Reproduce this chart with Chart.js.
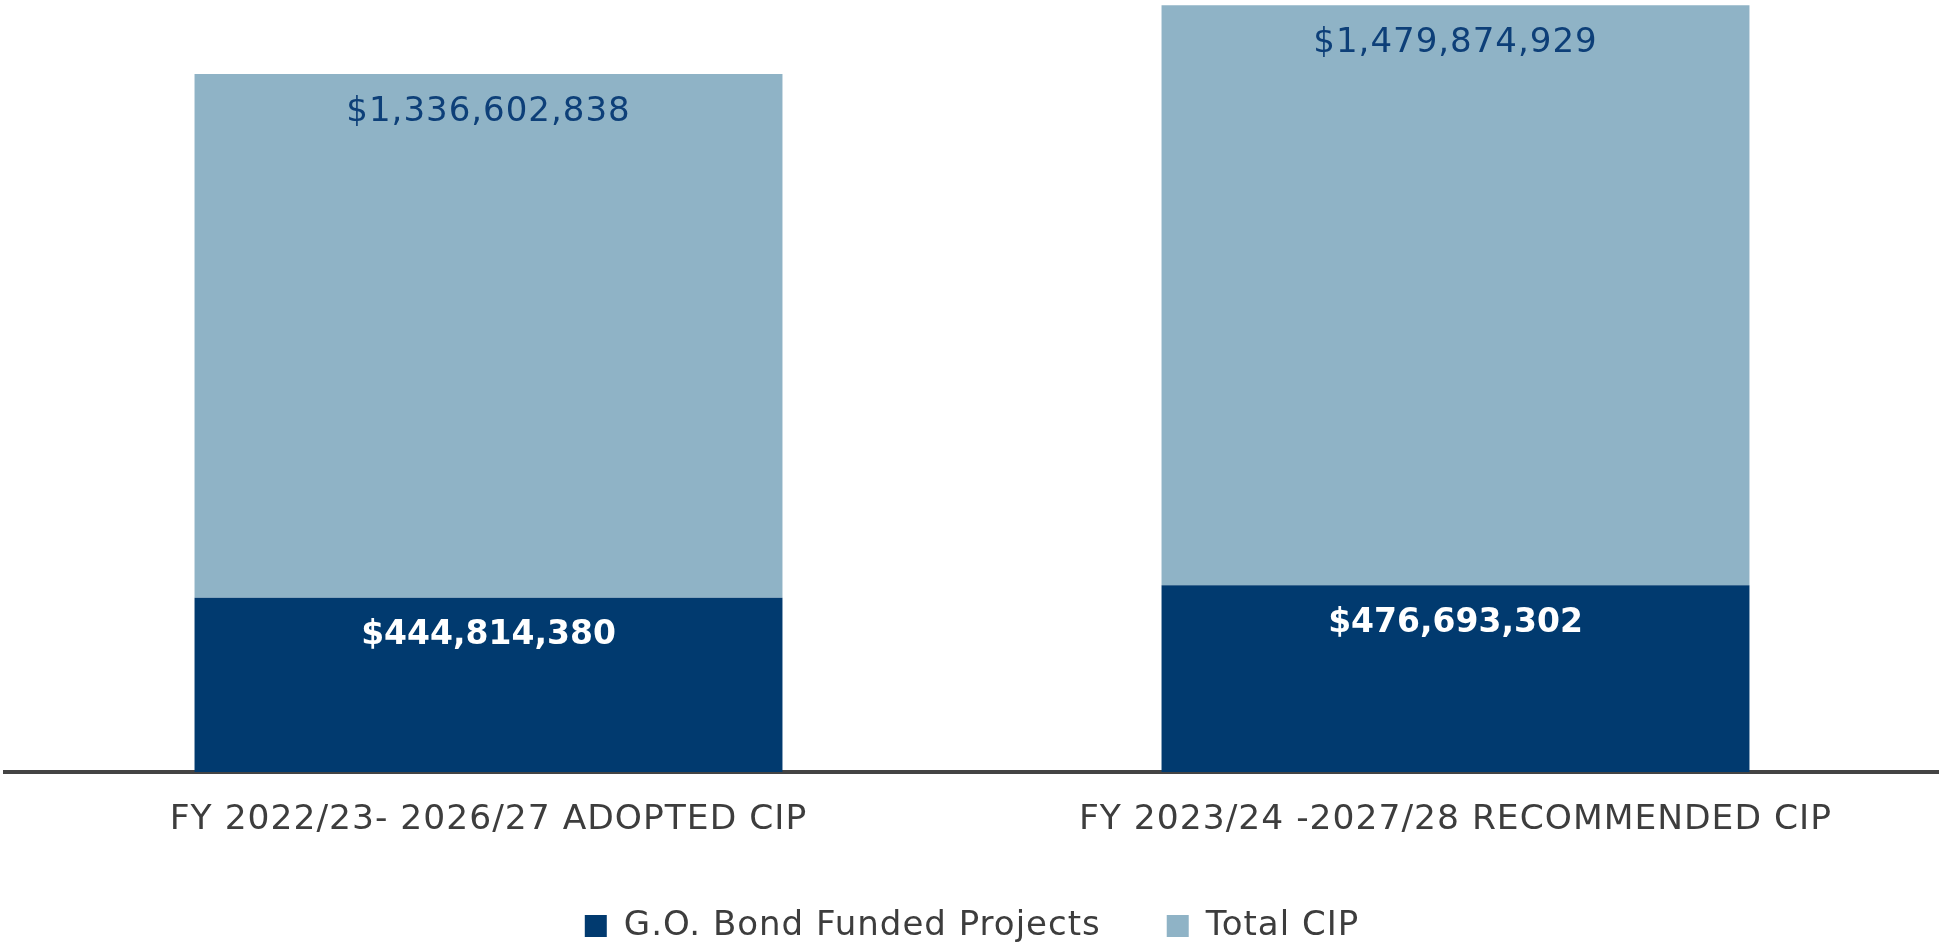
<!DOCTYPE html>
<html>
<head>
<meta charset="utf-8">
<script src="https://cdn.jsdelivr.net/npm/chart.js@4.4.0/dist/chart.umd.min.js"></script>
<style>
  html, body { margin: 0; padding: 0; background: #fff; }
  #wrap { width: 1939px; height: 952px; }
</style>
</head>
<body>
<div id="wrap"><canvas id="myChart"></canvas></div>
<script>
// categories and series
var categories = ['FY 2022/23- 2026/27 ADOPTED CIP', 'FY 2023/24 -2027/28 RECOMMENDED CIP'];
var seriesNames = ['G.O. Bond Funded Projects', 'Total CIP'];
var goBondValues = [444814380, 476693302];
var totalCipValues = [1336602838, 1479874929];
var yMax = 1970000000;

var darkBlue = '#013a6f';
var lightBlue = '#8fb3c6';
var textGrey = '#3d3d3d';

// wider text, like the original font
var spacingPlugin = {
  id: 'spacing',
  beforeLayout: function(chart) { chart.ctx.letterSpacing = '1px'; },
  beforeDraw: function(chart) { chart.ctx.letterSpacing = '1px'; }
};

// dollar labels inside each bar segment
var valueLabels = {
  id: 'valueLabels',
  afterDatasetsDraw: function(chart) {
    var ctx = chart.ctx;
    chart.data.datasets.forEach(function(ds, i) {
      var meta = chart.getDatasetMeta(i);
      meta.data.forEach(function(bar, j) {
        ctx.save();
        if (i === 0) {
          ctx.font = 'bold 33px "DejaVu Sans"';
          ctx.fillStyle = '#ffffff';
          ctx.letterSpacing = '0px';
        } else {
          ctx.font = '34px "DejaVu Sans"';
          ctx.fillStyle = '#0d3f78';
          ctx.letterSpacing = '1px';
        }
        ctx.textAlign = 'center';
        ctx.textBaseline = 'middle';
        ctx.fillText('$' + ds.data[j].toLocaleString('en-US'), bar.x, bar.y + 38);
        ctx.restore();
      });
    });
  }
};

var ctx = document.getElementById('myChart').getContext('2d');
var chart = new Chart(ctx, {
  type: 'bar',
  data: {
    labels: categories,
    datasets: [{
      label: seriesNames[0],
      data: goBondValues,
      backgroundColor: darkBlue,
      borderWidth: 0,
      barPercentage: 0.608,
      categoryPercentage: 1
    }, {
      label: seriesNames[1],
      data: totalCipValues,
      backgroundColor: lightBlue,
      borderWidth: 0,
      barPercentage: 0.608,
      categoryPercentage: 1
    }]
  },
  options: {
    responsive: true,
    maintainAspectRatio: false,
    animation: false,
    layout: { padding: { left: 5, right: 0, top: 0, bottom: 0 } },
    scales: {
      x: {
        stacked: true,
        z: 1,
        grid: { display: false },
        border: { display: true, color: '#444444', width: 4 },
        ticks: {
          color: textGrey,
          padding: 19,
          font: { family: '"DejaVu Sans"', size: 34.5 }
        },
        afterFit: function(scale) { scale.height = 71; }
      },
      y: {
        stacked: true,
        display: false,
        min: 0,
        max: yMax
      }
    },
    plugins: {
      tooltip: { enabled: false },
      legend: {
        position: 'bottom',
        maxHeight: 109,
        labels: {
          boxWidth: 22,
          boxHeight: 22,
          padding: 66,
          color: textGrey,
          font: { family: '"DejaVu Sans"', size: 34 }
        }
      }
    }
  },
  plugins: [spacingPlugin, valueLabels]
});
</script>
</body>
</html>
